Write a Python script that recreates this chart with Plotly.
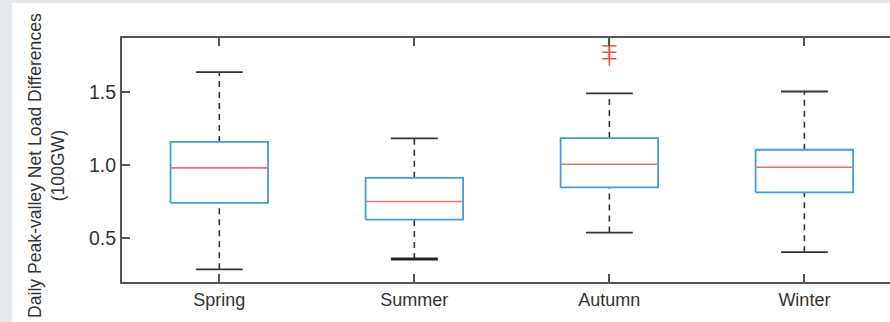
import plotly.graph_objects as go

# ---- data ----
seasons = ["Spring", "Summer", "Autumn", "Winter"]
lower_whisker = [0.286, 0.356, 0.537, 0.403]
q1 = [0.741, 0.626, 0.846, 0.812]
median = [0.980, 0.750, 1.005, 0.984]
q3 = [1.158, 0.912, 1.184, 1.104]
upper_whisker = [1.635, 1.182, 1.490, 1.503]
outliers = [[], [], [1.816, 1.771, 1.727], []]
y_ticks = [0.5, 1.0, 1.5]
y_tick_labels = ["0.5", "1.0", "1.5"]

BOX_HALF = 0.25
CAP_HALF = 0.12
FONT = "Liberation Sans, Arial, sans-serif"
TEXT_COLOR = "#333333"

fig = go.Figure()

for i, name in enumerate(seasons):
    x = i + 1
    # dashed whiskers
    fig.add_trace(go.Scatter(
        x=[x, x, None, x, x],
        y=[q3[i], upper_whisker[i], None, lower_whisker[i], q1[i]],
        mode="lines", line=dict(color="#333333", width=1.6, dash="6px,5px"),
        hoverinfo="skip", showlegend=False))
    # caps
    fig.add_trace(go.Scatter(
        x=[x - CAP_HALF, x + CAP_HALF, None, x - CAP_HALF, x + CAP_HALF],
        y=[upper_whisker[i], upper_whisker[i], None, lower_whisker[i], lower_whisker[i]],
        mode="lines", line=dict(color="#333333", width=1.8),
        hoverinfo="skip", showlegend=False))
    if name == "Summer":
        fig.add_trace(go.Scatter(
            x=[x - CAP_HALF, x + CAP_HALF],
            y=[lower_whisker[i], lower_whisker[i]],
            mode="lines", line=dict(color="#222222", width=3),
            hoverinfo="skip", showlegend=False))
    # box
    fig.add_trace(go.Scatter(
        x=[x - BOX_HALF, x + BOX_HALF, x + BOX_HALF, x - BOX_HALF, x - BOX_HALF],
        y=[q1[i], q1[i], q3[i], q3[i], q1[i]],
        mode="lines", fill="toself", fillcolor="white",
        line=dict(color="#3d9fdc", width=1.8),
        hoverinfo="skip", showlegend=False))
    # median
    fig.add_trace(go.Scatter(
        x=[x - BOX_HALF, x + BOX_HALF], y=[median[i], median[i]],
        mode="lines", line=dict(color="#e8726f", width=1.6),
        hoverinfo="skip", showlegend=False))
    # outliers
    if outliers[i]:
        fig.add_trace(go.Scatter(
            x=[x] * len(outliers[i]), y=outliers[i], mode="markers",
            marker=dict(symbol="cross-thin-open", size=10, color="#e8504c",
                        line=dict(color="#e8504c", width=1.6)),
            hoverinfo="skip", showlegend=False))

W, H = 890, 322
ML, MR, MT, MB = 122, 0, 38, 40
pw = W - ML - MR
ph = H - MT - MB

fig.update_layout(
    width=W, height=H,
    margin=dict(l=ML, r=MR, t=MT, b=MB, pad=0),
    paper_bgcolor="#e5e9ed",
    plot_bgcolor="white",
    font=dict(family=FONT, color=TEXT_COLOR, size=18),
    shapes=[dict(type="rect", xref="paper", yref="paper",
                 x0=(12 - ML) / pw, x1=1.05,
                 y0=-(MB + 5) / ph, y1=1 + (MT - 3) / ph,
                 fillcolor="white", line=dict(width=0), layer="below")],
    annotations=[dict(
        text="Daily Peak-valley Net Load Differences<br>(100GW)",
        xref="paper", yref="paper", x=(46 - ML) / pw, y=1 - (166 - MT) / ph,
        xanchor="center", yanchor="middle", textangle=-90, showarrow=False,
        font=dict(family=FONT, size=17.6, color=TEXT_COLOR))],
)

fig.update_xaxes(
    range=[0.501, 4.439],
    tickmode="array", tickvals=[1, 2, 3, 4], ticktext=seasons,
    tickfont=dict(size=18),
    showline=True, linecolor="#555555", linewidth=2, mirror="ticks",
    ticks="inside", ticklen=8, tickwidth=1.5, tickcolor="#555555",
    showgrid=False, zeroline=False,
)
fig.update_yaxes(
    range=[0.199, 1.869],
    tickmode="array", tickvals=y_ticks, ticktext=y_tick_labels,
    tickfont=dict(size=19.5),
    showline=True, linecolor="#555555", linewidth=2, mirror=False,
    ticks="inside", ticklen=8, tickwidth=1.5, tickcolor="#555555",
    showgrid=False, zeroline=False,
)

fig.write_html("out.html",
               config={"displayModeBar": False},
               post_script="document.body.style.margin='0';document.body.style.overflow='hidden';")
